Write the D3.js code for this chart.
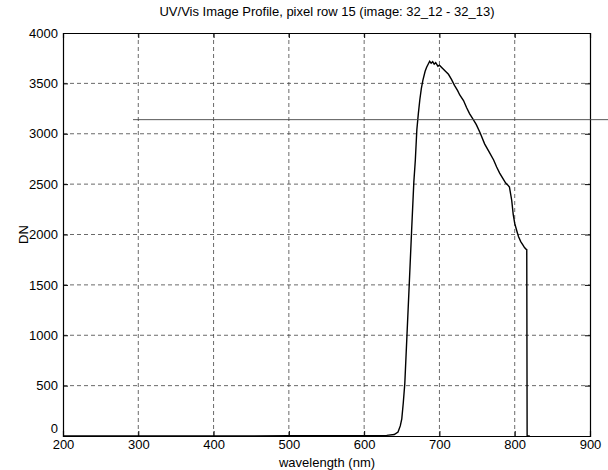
<!DOCTYPE html>
<html><head><meta charset="utf-8">
<script src="https://cdn.jsdelivr.net/npm/d3@7"></script>
<style>body{margin:0;background:#fff}svg{display:block}text{font-family:"Liberation Sans",Arial,sans-serif;fill:#000}</style>
</head><body><div id="c"></div>
<script>
const titleText = "UV/Vis Image Profile, pixel row 15  (image: 32_12 - 32_13)";
const xLabel = "wavelength (nm)";
const yLabel = "DN";
const xTicks = [200,300,400,500,600,700,800,900];
const yTicks = [0,500,1000,1500,2000,2500,3000,3500,4000];
const wavelength = [200,300,400,500,600,630,640,645,648,650,652,654,657,660,663,666,668,670,672,674,676,678,681,683,685,687,689,691,693,695,698,700,704,708,712,716,720,724,727,732,736,740,745,749,754,760,766,772,776,780,784,788,791,793,796,798,800,803,805,808,811,813,815,816,816.5,820];
const dn = [0,0,0,2,3,6,15,40,100,170,330,520,1020,1520,2030,2520,2740,3040,3200,3340,3450,3530,3620,3660,3690,3720,3700,3715,3690,3705,3670,3680,3650,3620,3590,3540,3480,3430,3385,3330,3260,3200,3140,3090,3010,2900,2820,2740,2670,2610,2560,2510,2490,2470,2340,2200,2110,2030,1980,1930,1895,1870,1855,1850,0,0];
const refLine = {x0:293, x1:990, y:3140};

const W=608,H=470, m={l:63,r:18,t:33,b:34};
const svg=d3.select("#c").append("svg").attr("width",W).attr("height",H);
const x=d3.scaleLinear().domain([200,900]).range([m.l,W-m.r]);
const y=d3.scaleLinear().domain([0,4000]).range([H-m.b,m.t]);

// grid
svg.append("g").selectAll("line").data(xTicks.slice(1,-1)).join("line")
 .attr("x1",d=>x(d)).attr("x2",d=>x(d)).attr("y1",m.t).attr("y2",H-m.b)
 .attr("stroke","#444").attr("stroke-width",0.8).attr("stroke-dasharray","4,3");
svg.append("g").selectAll("line").data(yTicks.slice(1,-1)).join("line")
 .attr("y1",d=>y(d)).attr("y2",d=>y(d)).attr("x1",m.l).attr("x2",W-m.r)
 .attr("stroke","#444").attr("stroke-width",0.8).attr("stroke-dasharray","4,3");

// axes
const xa=svg.append("g").attr("transform",`translate(0,${H-m.b})`)
 .call(d3.axisBottom(x).tickValues(xTicks).tickSize(-5).tickPadding(4).tickFormat(d3.format("d")));
const ya=svg.append("g").attr("transform",`translate(${m.l},0)`)
 .call(d3.axisLeft(y).tickValues(yTicks).tickSize(-5).tickPadding(5).tickFormat(d3.format("d")));
svg.append("g").attr("transform",`translate(${W-m.r},0)`)
 .call(d3.axisRight(y).tickValues(yTicks).tickSize(-5).tickFormat(""));
svg.append("g").attr("transform",`translate(0,${m.t})`)
 .call(d3.axisTop(x).tickValues(xTicks).tickSize(-5).tickFormat(""));
svg.selectAll(".domain").attr("stroke","#000").attr("stroke-width",1.2);
svg.selectAll(".tick line").attr("stroke","#000");
svg.selectAll(".tick text").style("font-size","13px").attr("fill","#000");
ya.selectAll(".tick text").filter(d=>d===0).attr("dy","-0.25em");

// curve
svg.append("path").datum(wavelength.map((w,i)=>[w,dn[i]]))
 .attr("d",d3.line().x(d=>x(d[0])).y(d=>y(d[1])))
 .attr("fill","none").attr("stroke","#000").attr("stroke-width",1.4);

// reference line
svg.append("line").attr("x1",x(refLine.x0)).attr("x2",x(refLine.x1))
 .attr("y1",y(refLine.y)).attr("y2",y(refLine.y))
 .attr("stroke","#444").attr("stroke-width",0.9);

// texts
svg.append("text").attr("x",327).attr("y",16).attr("text-anchor","middle").style("font-size","13px").text(titleText);
svg.append("text").attr("x",327).attr("y",467).attr("text-anchor","middle").style("font-size","13px").text(xLabel);
svg.append("text").attr("transform",`translate(28,${(m.t+H-m.b)/2}) rotate(-90)`).attr("text-anchor","middle").style("font-size","13px").text(yLabel);
</script></body></html>
